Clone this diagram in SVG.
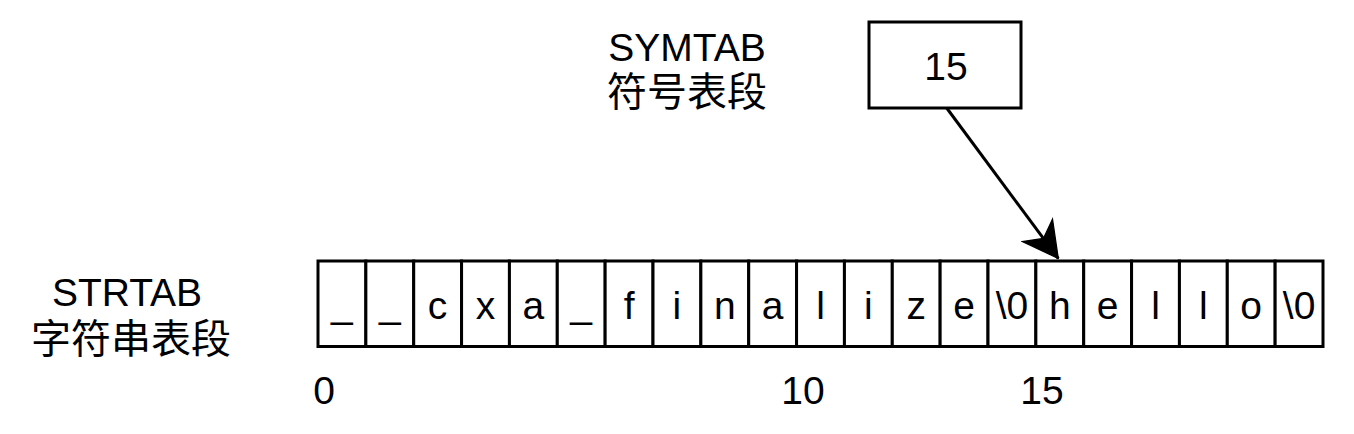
<svg xmlns="http://www.w3.org/2000/svg" width="1354" height="434" viewBox="0 0 1354 434">
<style>
.t{font-family:"Liberation Sans","Noto Sans CJK SC",sans-serif;font-size:39px;fill:#000;text-anchor:middle}
.c{font-family:"Liberation Sans","Noto Sans CJK SC",sans-serif;font-size:40px;fill:#000;text-anchor:middle}
.b{fill:#fff;stroke:#000;stroke-width:3}
.e{stroke:#000;stroke-width:3;fill:none}
</style>
<defs>
<marker id="ah" markerUnits="userSpaceOnUse" markerWidth="40" markerHeight="40" viewBox="-30 -16 32 32" refX="0" refY="0" orient="auto">
<path d="M0,0 L-28,-15 L-20,0 L-28,15 Z" fill="#000" stroke="#000" stroke-width="1"/>
</marker>
</defs>
<rect width="1354" height="434" fill="#fff"/>
<g id="symtab-label">
<text class="t" x="687" y="61">SYMTAB</text>
<text class="c" x="687" y="106">符号表段</text>
</g>
<g id="strtab-label">
<text class="t" x="127" y="306">STRTAB</text>
<text class="c" x="131" y="353">字符串表段</text>
</g>
<g id="box-15">
<rect class="b" x="869" y="22" width="152" height="86"/>
<text class="t" x="946" y="80">15</text>
</g>
<g id="cell-0"><rect class="b" x="318" y="261" width="47.86" height="85.5"/><text class="t" x="341.9" y="317">_</text></g>
<g id="cell-1"><rect class="b" x="365.86" y="261" width="47.86" height="85.5"/><text class="t" x="389.8" y="317">_</text></g>
<g id="cell-2"><rect class="b" x="413.71" y="261" width="47.86" height="85.5"/><text class="t" x="437.6" y="319">c</text></g>
<g id="cell-3"><rect class="b" x="461.57" y="261" width="47.86" height="85.5"/><text class="t" x="485.5" y="319">x</text></g>
<g id="cell-4"><rect class="b" x="509.43" y="261" width="47.86" height="85.5"/><text class="t" x="533.4" y="319">a</text></g>
<g id="cell-5"><rect class="b" x="557.29" y="261" width="47.86" height="85.5"/><text class="t" x="581.2" y="317">_</text></g>
<g id="cell-6"><rect class="b" x="605.14" y="261" width="47.86" height="85.5"/><text class="t" x="629.1" y="319">f</text></g>
<g id="cell-7"><rect class="b" x="653" y="261" width="47.86" height="85.5"/><text class="t" x="676.9" y="319">i</text></g>
<g id="cell-8"><rect class="b" x="700.86" y="261" width="47.86" height="85.5"/><text class="t" x="724.8" y="319">n</text></g>
<g id="cell-9"><rect class="b" x="748.71" y="261" width="47.86" height="85.5"/><text class="t" x="772.6" y="319">a</text></g>
<g id="cell-10"><rect class="b" x="796.57" y="261" width="47.86" height="85.5"/><text class="t" x="820.5" y="319">l</text></g>
<g id="cell-11"><rect class="b" x="844.43" y="261" width="47.86" height="85.5"/><text class="t" x="868.4" y="319">i</text></g>
<g id="cell-12"><rect class="b" x="892.29" y="261" width="47.86" height="85.5"/><text class="t" x="916.2" y="319">z</text></g>
<g id="cell-13"><rect class="b" x="940.14" y="261" width="47.86" height="85.5"/><text class="t" x="964.1" y="319">e</text></g>
<g id="cell-14"><rect class="b" x="988" y="261" width="47.86" height="85.5"/><text class="t" x="1011.9" y="319">\0</text></g>
<g id="cell-15"><rect class="b" x="1035.86" y="261" width="47.86" height="85.5"/><text class="t" x="1059.8" y="319">h</text></g>
<g id="cell-16"><rect class="b" x="1083.71" y="261" width="47.86" height="85.5"/><text class="t" x="1107.6" y="319">e</text></g>
<g id="cell-17"><rect class="b" x="1131.57" y="261" width="47.86" height="85.5"/><text class="t" x="1155.5" y="319">l</text></g>
<g id="cell-18"><rect class="b" x="1179.43" y="261" width="47.86" height="85.5"/><text class="t" x="1203.4" y="319">l</text></g>
<g id="cell-19"><rect class="b" x="1227.29" y="261" width="47.86" height="85.5"/><text class="t" x="1251.2" y="319">o</text></g>
<g id="cell-20"><rect class="b" x="1275.14" y="261" width="47.86" height="85.5"/><text class="t" x="1299.1" y="319">\0</text></g>
<g id="index-labels">
<text class="t" x="324" y="404">0</text>
<text class="t" x="803" y="404">10</text>
<text class="t" x="1042" y="404">15</text>
</g>
<g id="connectors">
<path class="e" d="M946.7,108 L1058.3,258.5" marker-end="url(#ah)"/>
</g>
</svg>
